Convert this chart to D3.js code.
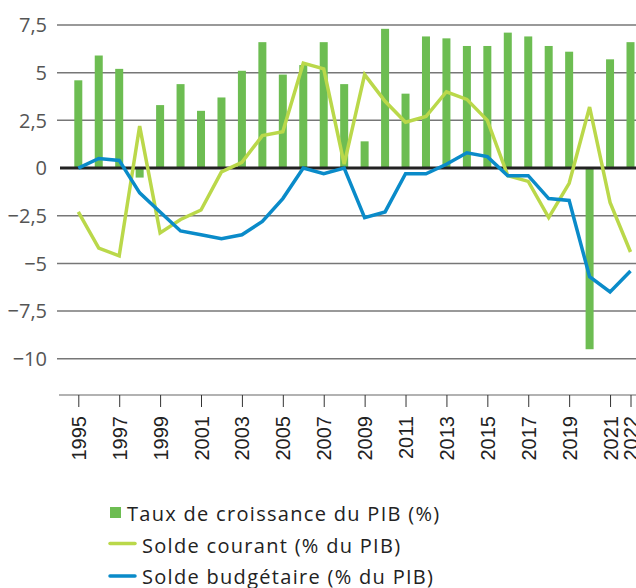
<!DOCTYPE html>
<html>
<head>
<meta charset="utf-8">
<script src="https://cdn.jsdelivr.net/npm/d3@7"></script>
<style>
  html, body { margin: 0; padding: 0; background: #fff; }
  svg { display: block; }
</style>
</head>
<body>
<div id="chart"></div>
<script>
const years = d3.range(1995, 2023);
const croissance = [4.6, 5.9, 5.2, -0.5, 3.3, 4.4, 3.0, 3.7, 5.1, 6.6, 4.9, 5.4, 6.6, 4.4, 1.4, 7.3,
  3.9, 6.9, 6.8, 6.4, 6.4, 7.1, 6.9, 6.4, 6.1, -9.5, 5.7, 6.6];
const soldeCourant = [-2.3, -4.2, -4.6, 2.2, -3.4, -2.7, -2.2, -0.2, 0.3, 1.7, 1.9, 5.5, 5.2, 0.2, 4.9,
  3.5, 2.4, 2.7, 4.0, 3.6, 2.5, -0.4, -0.7, -2.6, -0.8, 3.2, -1.8, -4.4];
const soldeBudget = [0.0, 0.5, 0.4, -1.3, -2.3, -3.3, -3.5, -3.7, -3.5, -2.8, -1.6, 0.0, -0.3, 0.0, -2.6,
  -2.3, -0.3, -0.3, 0.2, 0.8, 0.6, -0.4, -0.4, -1.6, -1.7, -5.7, -6.5, -5.4];
const yTicks = [7.5, 5, 2.5, 0, -2.5, -5, -7.5, -10];
const xTicks = [1995, 1997, 1999, 2001, 2003, 2005, 2007, 2009, 2011, 2013, 2015, 2017, 2019, 2021, 2022];
const legendLabels = ['Taux de croissance du PIB (%)', 'Solde courant (% du PIB)', 'Solde budgétaire (% du PIB)'];

const W = 636, H = 588;
const green = '#6dbd52', lime = '#bad84a', blue = '#0a8bc9';
const uiFont = '"Open Sans", sans-serif';

const svg = d3.select('#chart').append('svg')
  .attr('width', W).attr('height', H);

const x = d3.scaleLinear().domain([1995, 2022]).range([78.3, 630.5]);
const y = d3.scaleLinear().domain([-11.9, 7.5]).range([395, 25]);

const fmt = v => d3.format('.1~f')(Math.abs(v)).replace('.', ',');
const label = v => (v < 0 ? '\u2212' : '') + fmt(v);

// grid
svg.append('g')
  .selectAll('line')
  .data(yTicks.filter(d => d !== 0))
  .join('line')
  .attr('x1', 57).attr('x2', W)
  .attr('y1', d => y(d)).attr('y2', d => y(d))
  .attr('stroke', '#777').attr('stroke-width', 1.5);

svg.append('g')
  .selectAll('text')
  .data(yTicks)
  .join('text')
  .attr('x', 47)
  .attr('y', d => y(d))
  .attr('dy', '0.36em')
  .attr('text-anchor', 'end')
  .attr('font-family', uiFont)
  .attr('font-size', 20)
  .attr('fill', '#555')
  .text(label);

// bars
const bw = 8;
svg.append('g')
  .selectAll('rect')
  .data(croissance)
  .join('rect')
  .attr('x', (d, i) => x(years[i]) - bw / 2)
  .attr('width', bw)
  .attr('y', d => y(Math.max(0, d)))
  .attr('height', d => Math.abs(y(d) - y(0)))
  .attr('fill', green);

// zero line
svg.append('line')
  .attr('x1', 60).attr('x2', W)
  .attr('y1', y(0)).attr('y2', y(0))
  .attr('stroke', '#222').attr('stroke-width', 3);

// lines
const line = d3.line()
  .x((d, i) => x(years[i]))
  .y(d => y(d));

svg.append('path')
  .datum(soldeCourant)
  .attr('d', line)
  .attr('fill', 'none')
  .attr('stroke', lime)
  .attr('stroke-width', 3.5);

svg.append('path')
  .datum(soldeBudget)
  .attr('d', line)
  .attr('fill', 'none')
  .attr('stroke', blue)
  .attr('stroke-width', 3.5);

// x axis
const xAxis = svg.append('g')
  .attr('transform', `translate(0,${y(-11.9)})`)
  .call(d3.axisBottom(x).tickValues(xTicks).tickFormat(d3.format('d')).tickSize(12).tickSizeOuter(0));
xAxis.select('.domain').attr('d', `M59,0H${W}`).attr('stroke', '#999').attr('stroke-width', 1.5);
xAxis.selectAll('.tick line').attr('stroke', '#333').attr('stroke-width', 1);
xAxis.selectAll('.tick text')
  .attr('font-family', '"Liberation Sans", Arial, sans-serif')
  .attr('font-size', 20)
  .attr('fill', '#222')
  .attr('text-anchor', 'end')
  .attr('transform', 'rotate(-90)')
  .attr('x', -21)
  .attr('y', 0)
  .attr('dy', '0.35em');

// legend
const leg = svg.append('g')
  .attr('font-family', uiFont)
  .attr('font-size', 20)
  .attr('letter-spacing', '1.3px')
  .attr('fill', '#222');

leg.append('rect').attr('x', 110).attr('y', 507).attr('width', 11).attr('height', 11).attr('fill', green);
leg.append('text').attr('x', 127).attr('y', 521).text(legendLabels[0]);

leg.append('line').attr('x1', 110).attr('x2', 135).attr('y1', 543.5).attr('y2', 543.5)
  .attr('stroke', lime).attr('stroke-width', 3.5).attr('stroke-linecap', 'round');
leg.append('text').attr('x', 142).attr('y', 553).text(legendLabels[1]);

leg.append('line').attr('x1', 110).attr('x2', 135).attr('y1', 576).attr('y2', 576)
  .attr('stroke', blue).attr('stroke-width', 3.5).attr('stroke-linecap', 'round');
leg.append('text').attr('x', 142).attr('y', 584).text(legendLabels[2]);
</script>
</body>
</html>
